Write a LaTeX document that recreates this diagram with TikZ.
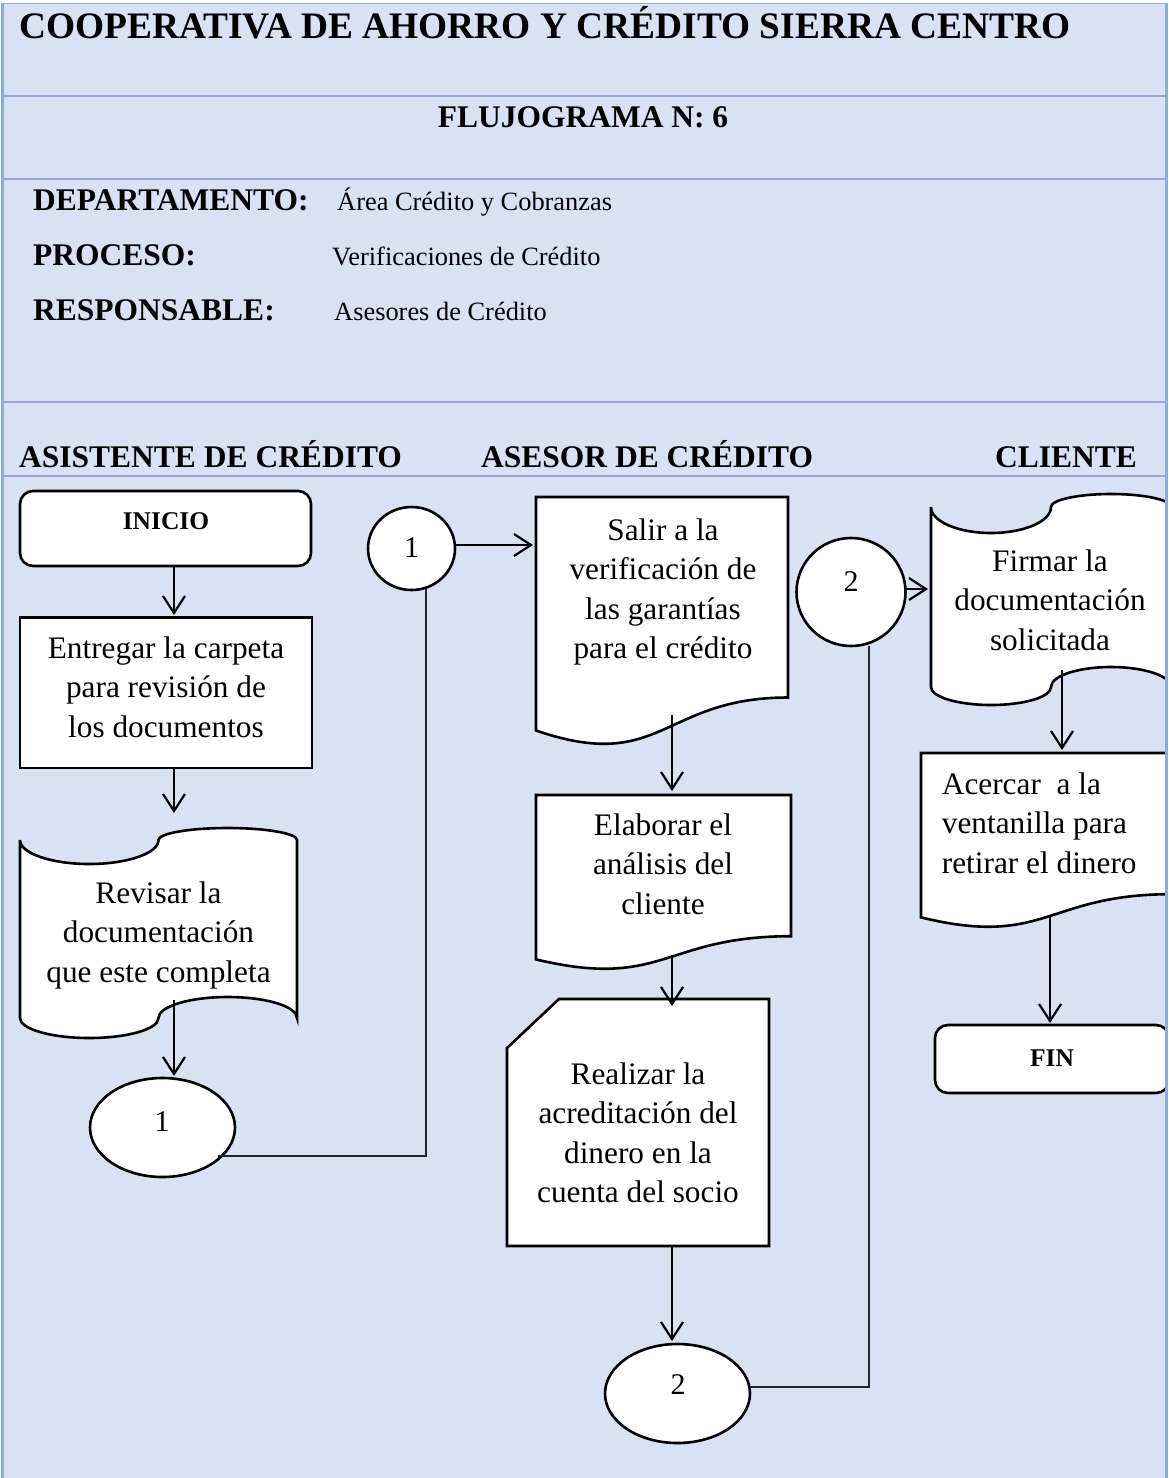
\documentclass[tikz,border=0pt]{standalone}
\usepackage{fontspec}
\setmainfont{Liberation Serif}
\usetikzlibrary{arrows.meta,shapes.geometric}
\definecolor{cellblue}{HTML}{D9E2F3}
\definecolor{rulblue}{HTML}{8EAADB}
\begin{document}
\begin{tikzpicture}[x=1pt,y=-1pt,
  shp/.style={draw=black, line width=2.6pt, fill=white},
  arr/.style={draw=black, line width=2.2pt, -{Straight Barb[length=17pt,width=22pt]}},
  conn/.style={draw=black!85, line width=1.3pt},
  body/.style={inner sep=0pt, align=center, font=\fontsize{31.3}{39.5}\selectfont},
  bodyl/.style={inner sep=0pt, align=left, font=\fontsize{31.3}{39.5}\selectfont},
  hdr/.style={inner sep=0pt, anchor=base west, font=\fontsize{31.5}{36}\selectfont\bfseries},
  val/.style={inner sep=0pt, anchor=base west, font=\fontsize{26.4}{30}\selectfont},
  term/.style={inner sep=0pt, anchor=base, font=\fontsize{25.5}{30}\selectfont\bfseries},
  num/.style={inner sep=0pt, font=\fontsize{30}{32}\selectfont},
  rul/.style={draw=rulblue, line width=1.6pt},
  rulv/.style={draw=rulblue, line width=2.2pt}
]
\useasboundingbox (0,0) rectangle (1168,1478);
\fill[white] (0,0) rectangle (1168,1478);
\fill[cellblue] (2.5,3.3) rectangle (1166.5,1478);

% ---------- header texts ----------
\node[inner sep=0pt, anchor=base west, font=\fontsize{37.4}{40}\selectfont\bfseries] (title) at (19,38) {COOPERATIVA DE AHORRO Y CRÉDITO SIERRA CENTRO};
\node[inner sep=0pt, anchor=base, font=\fontsize{31.5}{36}\selectfont\bfseries] (fluj) at (583,127) {FLUJOGRAMA N: 6};
\node[hdr] (dep) at (33,210) {DEPARTAMENTO:};
\node[val] (depv) at (337,210) {Área Crédito y Cobranzas};
\node[hdr] (pro) at (33,265) {PROCESO:};
\node[val] (prov) at (332,265) {Verificaciones de Crédito};
\node[hdr] (res) at (33,320) {RESPONSABLE:};
\node[val] (resv) at (334,320) {Asesores de Crédito};
\node[hdr] (lane1) at (19,467) {ASISTENTE DE CRÉDITO};
\node[hdr] (lane2) at (481,467) {ASESOR DE CRÉDITO};
\node[hdr] (lane3) at (995,467) {CLIENTE};

% ---------- shapes ----------
\begin{scope}
\clip (2.5,3.3) rectangle (1166.5,1478);
% lane 1
\node[shp, rounded corners=13pt, minimum width=291pt, minimum height=75pt, inner sep=0pt] (inicioBox) at (165.5,528.5) {};
\node[term] (inicio) at (166,529) {INICIO};
\node[shp, minimum width=292pt, minimum height=150.5pt, inner sep=0pt] (entregarBox) at (166,692.75) {};
\node[body] (entregar) at (166,687) {Entregar la carpeta\\para revisión de\\los documentos};
\draw[shp] (20,840) arc[start angle=180,end angle=0,x radius=69.25,y radius=24]
  arc[start angle=180,end angle=360,x radius=69.25,y radius=12] -- (297,1018)
  arc[start angle=0,end angle=-180,x radius=69.25,y radius=21]
  arc[start angle=0,end angle=180,x radius=69.25,y radius=20] -- cycle;
\node[body] (revisar) at (158.5,935) {Revisar la\\documentación\\que este completa};
\node[shp, ellipse, minimum width=145pt, minimum height=99pt, inner sep=0pt] (ell1) at (162.5,1127.5) {};
\node[num] (ell1t) at (162,1122) {1};

% lane 2
\node[shp, ellipse, minimum width=87pt, minimum height=83pt, inner sep=0pt] (circ1) at (411.5,548.5) {};
\node[num] (circ1t) at (411.5,548) {1};
\draw[shp] (536,497) -- (788,497) -- (788,697.5) .. controls (662,697.5) and (662,773.8) .. (536,730.5) -- cycle;
\node[body] (salir) at (663,592) {Salir a la\\verificación de\\las garantías\\para el crédito};
\draw[shp] (536,795) -- (791,795) -- (791,936.2) .. controls (663.5,936.2) and (663.5,989.8) .. (536,959.4) -- cycle;
\node[body] (elaborar) at (663,864) {Elaborar el\\análisis del\\cliente};
\draw[shp] (559,999) -- (769,999) -- (769,1246) -- (507,1246) -- (507,1048) -- cycle;
\node[body] (realizar) at (638,1133) {Realizar la\\acreditación del\\dinero en la\\cuenta del socio};
\node[shp, ellipse, minimum width=145pt, minimum height=99pt, inner sep=0pt] (ell2) at (677.5,1393.5) {};
\node[num] (ell2t) at (678,1385) {2};

% lane 3
\node[shp, ellipse, minimum width=109pt, minimum height=108pt, inner sep=0pt] (circ2) at (851,592) {};
\node[num] (circ2t) at (851,582) {2};
\draw[shp] (931,507) arc[start angle=180,end angle=0,x radius=60,y radius=26]
  arc[start angle=180,end angle=360,x radius=60,y radius=13] -- (1171,687)
  arc[start angle=0,end angle=-180,x radius=60,y radius=20]
  arc[start angle=0,end angle=180,x radius=60,y radius=18] -- cycle;
\node[body] (firmar) at (1050,600) {Firmar la\\documentación\\solicitada};
\draw[shp] (921,753) -- (1171,753) -- (1171,894.2) .. controls (1046,894.2) and (1046,947.8) .. (921,917.4) -- cycle;
\node[bodyl, anchor=west] (acercar) at (941.7,823) {Acercar\ \ a la\\ventanilla para\\retirar el dinero};
\node[shp, rounded corners=13pt, minimum width=234pt, minimum height=68pt, inner sep=0pt] (finBox) at (1052,1059) {};
\node[term] (fin) at (1052,1066) {FIN};

% ---------- connector end points ----------
\coordinate (p1a) at (174,566);   \coordinate (p1b) at (174,615);
\coordinate (p2a) at (174,768);   \coordinate (p2b) at (174,813);
\coordinate (p3a) at (174,1000);  \coordinate (p3b) at (174,1076);
\coordinate (q1a) at (218,1156);  \coordinate (q1b) at (426,1156);  \coordinate (q1c) at (426,588.5);
\coordinate (p4a) at (455,545);   \coordinate (p4b) at (533,545);
\coordinate (p5a) at (672,715);   \coordinate (p5b) at (672,791);
\coordinate (p6a) at (672,955);   \coordinate (p6b) at (672,1006);
\coordinate (p7a) at (672,1246);  \coordinate (p7b) at (672,1341);
\coordinate (q2a) at (750,1387);  \coordinate (q2b) at (869,1387);  \coordinate (q2c) at (869,645.5);
\coordinate (p8a) at (905.5,589); \coordinate (p8b) at (928,589);
\coordinate (p9a) at (1062,670);  \coordinate (p9b) at (1062,750);
\coordinate (p10a) at (1050,917); \coordinate (p10b) at (1050,1023);

\draw[arr] (p1a) -- (p1b);
\draw[arr] (p2a) -- (p2b);
\draw[arr] (p3a) -- (p3b);
\draw[conn] (q1a) -- (q1b) -- (q1c);
\draw[arr] (p4a) -- (p4b);
\draw[arr] (p5a) -- (p5b);
\draw[arr] (p6a) -- (p6b);
\draw[arr] (p7a) -- (p7b);
\draw[conn] (q2a) -- (q2b) -- (q2c);
\draw[arr] (p8a) -- (p8b);
\draw[arr] (p9a) -- (p9b);
\draw[arr] (p10a) -- (p10b);
\end{scope}

% ---------- table rules ----------
\draw[rul] (2.5,3.3) -- (1166.5,3.3);
\draw[rul] (2.5,96) -- (1166.5,96);
\draw[rul] (2.5,179) -- (1166.5,179);
\draw[rul] (2.5,402) -- (1166.5,402);
\draw[rul] (2.5,476) -- (1166.5,476);
\draw[rulv] (2.5,3.3) -- (2.5,1478);
\draw[rulv] (1166.5,3.3) -- (1166.5,1478);
\end{tikzpicture}
\end{document}
